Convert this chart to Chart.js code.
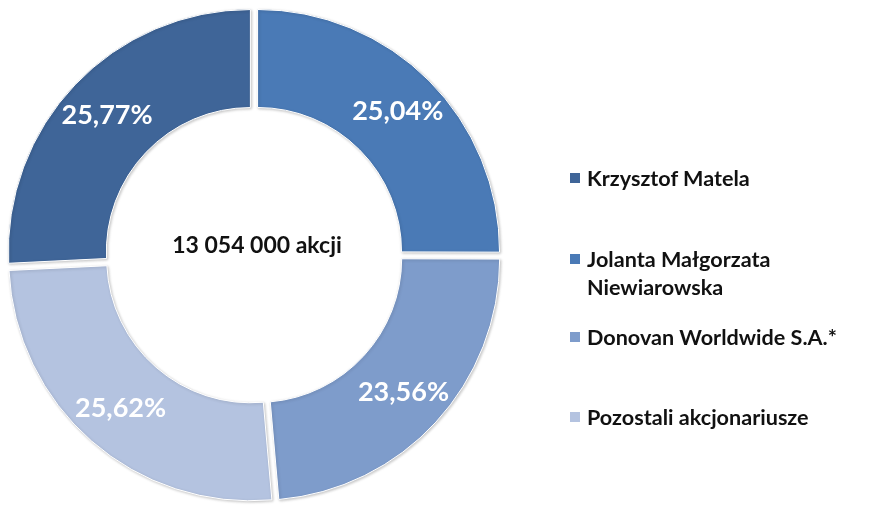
<!DOCTYPE html>
<html>
<head>
<meta charset="utf-8">
<script src="https://cdn.jsdelivr.net/npm/chart.js@4.4.1/dist/chart.umd.min.js"></script>
<style>
  html, body { margin: 0; padding: 0; background: #fff; }
  #wrap { position: relative; width: 869px; height: 525px; }
  #chart { position: absolute; left: 0; top: 0; }
  .lg-item { position: absolute; left: 570px; font: bold 21.6px Lato, sans-serif; color: #111; line-height: 28px; }
  .lg-box { position: absolute; left: 0; top: 9px; width: 10px; height: 10px; }
  .lg-text { margin-left: 17px; white-space: nowrap; }
</style>
</head>
<body>
<div id="wrap">
  <canvas id="chart" width="869" height="525"></canvas>
</div>
<script>
  // ===== data =====
  const labels = ['Krzysztof Matela', ['Jolanta Małgorzata', 'Niewiarowska'], 'Donovan Worldwide S.A.*', 'Pozostali akcjonariusze'];
  const shares = [25.77, 25.04, 23.56, 25.62];
  const colors = ['#3F6598', '#4A7AB6', '#7E9CCB', '#B4C3E0'];
  const centerText = '13 054 000 akcji';

  // ===== layout =====
  const legendTop = [164, 245, 323, 403];

  const fmt = v => v.toFixed(2).replace('.', ',') + '%';

  // percent labels + center caption
  const labelPlugin = {
    id: 'sliceLabels',
    beforeDatasetsDraw(chart) {
      const ctx = chart.ctx;
      ctx.save();
      ctx.shadowColor = 'rgba(0,0,0,0.22)';
      ctx.shadowBlur = 3;
      ctx.shadowOffsetX = 1;
      ctx.shadowOffsetY = 1;
    },
    afterDatasetsDraw(chart) {
      const ctx = chart.ctx;
      ctx.restore();
      const meta = chart.getDatasetMeta(0);
      ctx.save();
      ctx.fillStyle = '#fff';
      ctx.font = 'bold 27px Lato, sans-serif';
      ctx.textAlign = 'center';
      ctx.textBaseline = 'middle';
      meta.data.forEach((arc, i) => {
        const p = arc.tooltipPosition();
        ctx.fillText(fmt(shares[i]), p.x, p.y);
      });
      const c = meta.data[0];
      ctx.fillStyle = '#111';
      ctx.font = 'bold 23px Lato, sans-serif';
      ctx.fillText(centerText, c.x + 3, c.y - 9);
      ctx.restore();
    }
  };

  new Chart(document.getElementById('chart'), {
    type: 'doughnut',
    data: {
      labels: labels,
      datasets: [{
        data: shares,
        backgroundColor: colors,
        borderColor: '#fff',
        borderWidth: 1,
        offset: 20,
        hoverOffset: 0
      }]
    },
    options: {
      responsive: false,
      animation: false,
      rotation: -shares[0] * 3.6,
      cutout: '59.5%',
      layout: { padding: { left: 1.5, top: 2.5, right: 362.5, bottom: 17.5 } },
      plugins: { legend: { display: false }, tooltip: { enabled: false } }
    },
    plugins: [labelPlugin]
  });

  // ===== legend =====
  const wrap = document.getElementById('wrap');
  labels.forEach((lab, i) => {
    const item = document.createElement('div');
    item.className = 'lg-item';
    item.style.top = legendTop[i] + 'px';
    const box = document.createElement('div');
    box.className = 'lg-box';
    box.style.background = colors[i];
    const txt = document.createElement('div');
    txt.className = 'lg-text';
    txt.innerHTML = (Array.isArray(lab) ? lab : [lab]).join('<br>');
    item.appendChild(box);
    item.appendChild(txt);
    wrap.appendChild(item);
  });
</script>
</body>
</html>
